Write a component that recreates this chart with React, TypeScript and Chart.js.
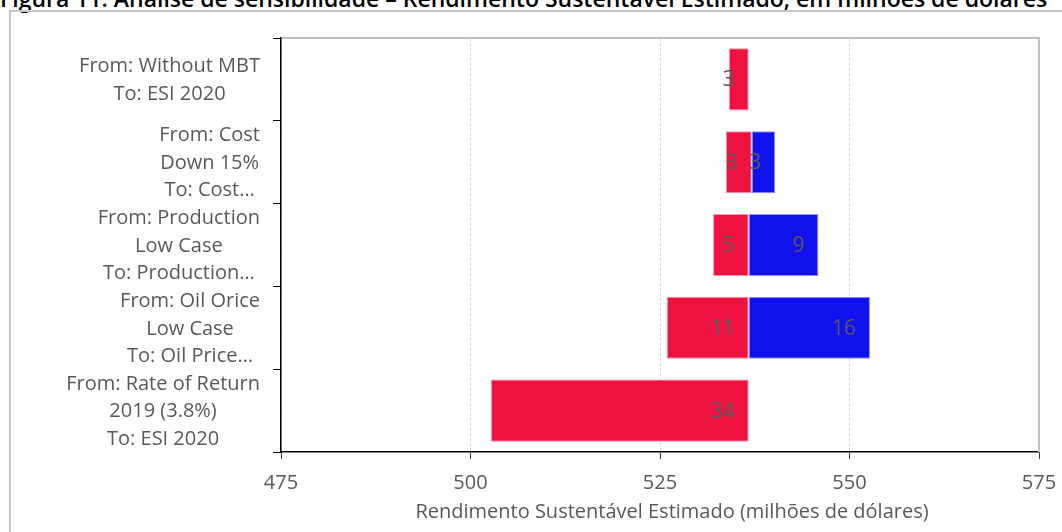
import React, { useEffect, useRef } from 'react';
import { Chart, registerables } from 'chart.js';

Chart.register(...registerables);

const FONT = "'Open Sans', sans-serif";

const chartTitle =
  'Figura 11: Análise de sensibilidade – Rendimento Sustentável Estimado, em milhões de dólares';
const xAxisTitle = 'Rendimento Sustentável Estimado (milhões de dólares)';

const categoryLines: string[][] = [
  ['From: Without MBT', 'To: ESI 2020'],
  ['From: Cost', 'Down 15%', 'To: Cost…'],
  ['From: Production', 'Low Case', 'To: Production…'],
  ['From: Oil Orice', 'Low Case', 'To: Oil Price…'],
  ['From: Rate of Return', '2019 (3.8%)', 'To: ESI 2020'],
];

const baseValues = [536.7, 537.1, 536.7, 536.7, 536.7];
const lowValues = [534.1, 533.7, 532.0, 525.9, 502.7];
const highValues: (number | null)[] = [null, 540.2, 545.9, 552.7, null];
const lowLabels: (string | null)[] = ['3', '3', '5', '11', '34'];
const highLabels: (string | null)[] = [null, '3', '9', '16', null];
const xTicks = [475, 500, 525, 550, 575];

const RED = '#EE1240';
const BLUE = '#1111EE';
const TEXT = '#595959';

const decorPlugin = {
  id: 'decor',
  afterDatasetsDraw(chart: any) {
    const ctx = chart.ctx;
    ctx.save();
    ctx.font = `21px ${FONT}`;
    ctx.fillStyle = TEXT;
    ctx.textAlign = 'right';
    ctx.textBaseline = 'middle';
    chart.data.datasets.forEach((ds: any, di: number) => {
      const meta = chart.getDatasetMeta(di);
      const labels = di === 0 ? lowLabels : highLabels;
      meta.data.forEach((el: any, i: number) => {
        if (labels[i] == null || ds.data[i] == null) return;
        const right = Math.max(el.x, el.base);
        ctx.fillText(labels[i], right - 14, el.y + 1);
      });
    });
    ctx.restore();
  },
  afterDraw(chart: any) {
    const ctx = chart.ctx;
    const ys = chart.scales.y;
    const { left, top, right, bottom } = chart.chartArea;
    ctx.save();
    ctx.strokeStyle = '#c0c0c0';
    ctx.lineWidth = 2;
    ctx.beginPath();
    ctx.moveTo(left + 1, top);
    ctx.lineTo(right, top);
    ctx.lineTo(right, bottom);
    ctx.stroke();

    ctx.font = `20px ${FONT}`;
    ctx.fillStyle = TEXT;
    ctx.textAlign = 'center';
    ctx.textBaseline = 'middle';
    const lh = 27.5;
    categoryLines.forEach((lines, i) => {
      const cy = ys.getPixelForValue(i);
      const w = Math.max(...lines.map((l) => ctx.measureText(l).width));
      const cx = left - 21 - w / 2;
      lines.forEach((l, k) => {
        ctx.fillText(l, cx, cy + (k - (lines.length - 1) / 2) * lh + 1);
      });
    });

    // x-axis title (slightly right of plot centre, as in the reference)
    ctx.fillText(xAxisTitle, (left + right) / 2 + 12, bottom + 60);
    ctx.restore();
  },
};

export default function App() {
  const ref = useRef<HTMLCanvasElement | null>(null);

  useEffect(() => {
    if (!ref.current) return;
    const chart = new Chart(ref.current, {
      type: 'bar',
      data: {
        labels: categoryLines.map((l) => l.join(' ')),
        datasets: [
          {
            label: 'Low',
            data: lowValues.map((v, i) => [v, baseValues[i]]) as any,
            backgroundColor: RED,
            borderColor: 'rgba(255,120,150,0.8)',
            borderWidth: 1,
            borderSkipped: false,
            grouped: false,
            categoryPercentage: 0.75,
            barPercentage: 1,
          } as any,
          {
            label: 'High',
            data: highValues.map((v, i) => (v == null ? null : [baseValues[i], v])) as any,
            backgroundColor: BLUE,
            borderColor: 'rgba(120,120,255,0.8)',
            borderWidth: 1,
            borderSkipped: false,
            grouped: false,
            categoryPercentage: 0.75,
            barPercentage: 1,
          } as any,
        ],
      },
      options: {
        indexAxis: 'y',
        responsive: false,
        animation: false,
        devicePixelRatio: 1,
        layout: { padding: { left: 0, top: 38, right: 23, bottom: 0 } },
        plugins: {
          legend: { display: false },
          tooltip: { enabled: false },
          title: { display: false },
        },
        scales: {
          x: {
            type: 'linear',
            min: 475,
            max: 575,
            afterBuildTicks: (s: any) => {
              s.ticks = xTicks.map((v) => ({ value: v }));
            },
            afterFit: (s: any) => {
              s.height = 80;
              s.paddingLeft = 0;
              s.paddingRight = 0;
            },
            ticks: {
              color: TEXT,
              font: { family: FONT, size: 20 },
              padding: 12,
              maxRotation: 0,
            },
            grid: {
              color: '#d9d9d9',
              lineWidth: 1,
              tickColor: '#404040',
              tickLength: 7,
            },
            border: { color: '#000', width: 1.5, dash: [3, 2] },
            title: { display: false },
          },
          y: {
            type: 'category',
            offset: true,
            afterFit: (s: any) => {
              s.width = 281;
              s.paddingTop = 0;
              s.paddingBottom = 0;
            },
            ticks: { display: false },
            grid: {
              offset: true,
              drawOnChartArea: false,
              color: '#000',
              tickColor: '#000',
              tickLength: 8,
            },
            border: { color: '#000', width: 1.5 },
          },
        },
      } as any,
      plugins: [decorPlugin],
    });
    return () => chart.destroy();
  }, []);

  return (
    <div
      style={{
        position: 'fixed',
        left: 0,
        top: 0,
        width: 1062,
        height: 532,
        overflow: 'hidden',
        background: '#fff',
      }}
    >
      <div
        style={{
          position: 'absolute',
          left: 0,
          top: -13,
          whiteSpace: 'nowrap',
          fontFamily: FONT,
          fontWeight: 600,
          fontSize: 23,
          lineHeight: '23px',
          color: '#000',
        }}
      >
        {chartTitle}
      </div>
      <div
        style={{
          position: 'absolute',
          left: 9,
          top: 10,
          width: 1200,
          height: 700,
          border: '2px solid #c6c6c6',
        }}
      />
      <canvas
        ref={ref}
        width={1062}
        height={532}
        style={{ position: 'absolute', left: 0, top: 0, width: 1062, height: 532 }}
      />
    </div>
  );
}
